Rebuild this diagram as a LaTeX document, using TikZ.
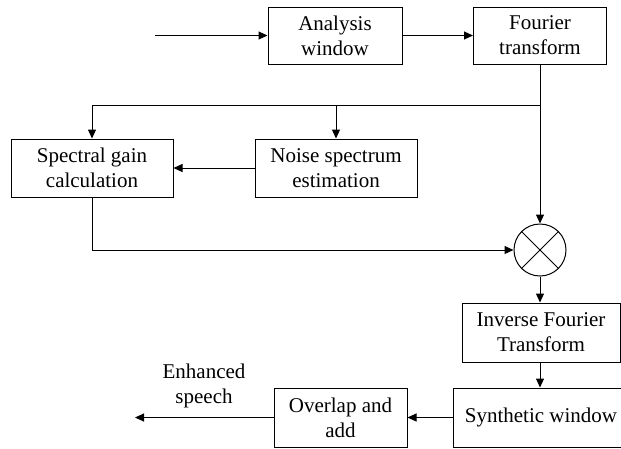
\documentclass[tikz,border=0pt]{standalone}
\usepackage{fontspec}
\setmainfont{Liberation Serif}
\usetikzlibrary{arrows.meta,calc}

\begin{document}
\begin{tikzpicture}[x=1pt, y=-1pt,
		blok/.style={draw, rectangle, line width=1pt, align=center, inner sep=0pt, font=\fontsize{21}{25}\selectfont},
		lbl/.style={align=center, inner sep=0pt, font=\fontsize{21}{25}\selectfont},
		flow/.style={line width=1pt, -{Triangle[length=9pt,width=8pt]}},
		wire/.style={line width=1pt}]
				\useasboundingbox (0,0) rectangle (621,448);
				
				% Analisi
				\node[blok, minimum width=134pt, minimum height=57pt] (aw) at (335,35.5) {Analysis\\window};
				\node[blok, minimum width=133pt, minimum height=57pt] (ft) at (540,35.5) {Fourier\\transform};
				\coordinate (in) at (155,35.5);
				\draw[flow] (in) -- (aw);
				\draw[flow] (aw) -- (ft);
				
				% Stima e guadagno
				\node[blok, minimum width=162pt, minimum height=58pt] (sg) at (92,168) {Spectral gain\\calculation};
				\node[blok, minimum width=162pt, minimum height=58pt] (ns) at (336,168) {Noise spectrum\\estimation};
				\node[draw, circle, line width=1pt, minimum size=52pt, inner sep=0pt] (mul) at (540,250) {};
				\draw[wire] (mul.north west) -- (mul.south east);
				\draw[wire] (mul.north east) -- (mul.south west);
				
				\coordinate (split) at (540,105);
				\draw[wire] (ft) -- (split);
				\draw[flow] (split) -- (mul);
				\draw[flow] (split) -| (sg);
				\draw[flow] (ns.north |- split) -- (ns);
				\draw[flow] (ns) -- (sg);
				\draw[flow] (sg) |- (mul);
				
				% Sintesi
				\node[blok, minimum width=158pt, minimum height=59pt] (ift) at (541,332.5) {Inverse Fourier\\Transform};
				\node[blok, minimum width=176pt, minimum height=59pt] (sw) at (541,417.5) {Synthetic window};
				\node[blok, minimum width=133pt, minimum height=59pt] (oa) at (340.5,417.5) {Overlap and\\add};
				\coordinate (out) at (135,417.5);
				\node[lbl] (es) at (204,386) {Enhanced\\speech};
				
				\draw[flow] (mul) -- (mul |- ift.north);
				\draw[flow] (mul |- ift.south) -- (mul |- sw.north);
				\draw[flow] (sw) -- (oa);
				\draw[flow] (oa) -- (out);
			\end{tikzpicture}
\end{document}
